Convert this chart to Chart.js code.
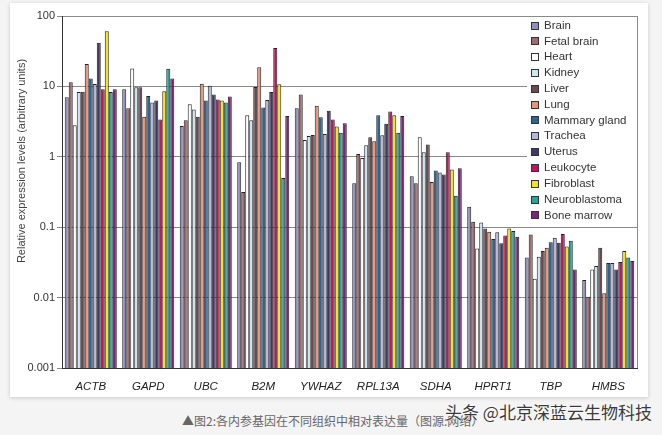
<!DOCTYPE html>
<html>
<head>
<meta charset="utf-8">
<script src="https://cdn.jsdelivr.net/npm/chart.js@4.4.1/dist/chart.umd.min.js"></script>
<style>
  html, body { margin: 0; padding: 0; }
  body { width: 662px; height: 435px; background: #f4f4f4; position: relative; overflow: hidden; font-family: "Liberation Sans", Arial, sans-serif; }
  .card { position: absolute; left: 10px; top: 3px; width: 638px; height: 394px; background: #fff; box-shadow: 0 1px 4px rgba(0,0,0,0.18); }
  #chart { position: absolute; left: 0; top: 0; }
  .caption { position: absolute; left: 182px; top: 412px; font-size: 12px; color: #666; font-family: "Noto Sans CJK SC", sans-serif; white-space: nowrap; }
  .mark { position: absolute; left: 445px; top: 399px; font-size: 17px; color: #3a3a3a; font-family: "Noto Sans CJK SC", sans-serif; white-space: nowrap;
          text-shadow: 0 0 2px #fff, 0 0 2px #fff; }
</style>
</head>
<body>
<div class="card"><canvas id="chart" width="638" height="394"></canvas></div>
<div class="caption">▲图2:各内参基因在不同组织中相对表达量（图源:网络）</div>
<div class="mark">头条 @北京深蓝云生物科技</div>
<script>
// genes on the x axis
const genes = ['ACTB', 'GAPD', 'UBC', 'B2M', 'YWHAZ', 'RPL13A', 'SDHA', 'HPRT1', 'TBP', 'HMBS'];
const yTicks = [0.001, 0.01, 0.1, 1, 10, 100];

// values per tissue
const brain         = [7.0, 9.1, 2.74, 0.835, 4.9, 0.42, 0.53, 0.195, 0.037, 0.0178];
const fetalBrain    = [11.5, 4.9, 3.3, 0.316, 7.7, 1.1, 0.42, 0.12, 0.079, 0.0103];
const heart         = [2.8, 18, 5.6, 3.9, 1.73, 0.96, 1.89, 0.05, 0.0186, 0.025];
const kidney        = [8.3, 9.7, 4.7, 3.3, 1.97, 1.46, 1.16, 0.117, 0.038, 0.028];
const liver         = [8.4, 9.7, 3.7, 9.8, 2.04, 1.89, 1.5, 0.096, 0.046, 0.051];
const lung          = [20.8, 3.7, 10.9, 18.7, 5.3, 1.66, 0.44, 0.086, 0.051, 0.0115];
const mammaryGland  = [12.9, 7.3, 6.3, 5.0, 3.64, 3.9, 0.64, 0.068, 0.061, 0.031];
const trachea       = [10.8, 5.9, 10.2, 6.4, 2.1, 2.02, 0.6, 0.085, 0.071, 0.031];
const uterus        = [41.8, 6.3, 7.7, 8.3, 4.5, 2.95, 0.56, 0.059, 0.06, 0.025];
const leukocyte     = [9.1, 3.4, 6.5, 35, 3.4, 4.4, 1.16, 0.076, 0.08, 0.032];
const fibroblast    = [60.6, 8.5, 6.3, 10.7, 2.7, 3.9, 0.66, 0.096, 0.053, 0.046];
const neuroblastoma = [8.3, 17.8, 5.9, 0.5, 2.2, 2.2, 0.28, 0.088, 0.064, 0.037];
const boneMarrow    = [9.1, 12.9, 7.2, 3.8, 3.0, 3.8, 0.69, 0.073, 0.025, 0.033];

const series = [
  ['Brain', brain, '#9090bb'],
  ['Fetal brain', fetalBrain, '#9e6a6e'],
  ['Heart', heart, '#ffffff'],
  ['Kidney', kidney, '#cfe6f2'],
  ['Liver', liver, '#6a4a4e'],
  ['Lung', lung, '#e8937a'],
  ['Mammary gland', mammaryGland, '#2b6595'],
  ['Trachea', trachea, '#b4b4dc'],
  ['Uterus', uterus, '#3d3a66'],
  ['Leukocyte', leukocyte, '#c0145e'],
  ['Fibroblast', fibroblast, '#f5e41c'],
  ['Neuroblastoma', neuroblastoma, '#2aa39c'],
  ['Bone marrow', boneMarrow, '#7d2479']
];

const fontFamily = '"Liberation Sans", Arial, sans-serif';

// legend box inside the plot, top right, plus the right frame line and y title
const framePlugin = {
  id: 'frame',
  afterDraw(chart) {
    const { ctx, chartArea } = chart;
    ctx.save();
    // right frame
    ctx.strokeStyle = '#8a8a8a';
    ctx.lineWidth = 1;
    ctx.beginPath();
    ctx.moveTo(chartArea.right + 0.5, chartArea.top);
    ctx.lineTo(chartArea.right + 0.5, chartArea.bottom);
    ctx.stroke();

    // legend
    const x0 = chartArea.right - 110;
    ctx.fillStyle = '#fff';
    ctx.fillRect(x0, chartArea.top + 1, chartArea.right - x0, 205);
    ctx.font = '11.5px ' + fontFamily;
    ctx.textBaseline = 'middle';
    chart.data.datasets.forEach((ds, i) => {
      const y = chartArea.top + 9.5 + i * 15.83;
      ctx.fillStyle = ds.backgroundColor;
      ctx.fillRect(x0 + 4.5, Math.round(y) - 3.5, 7, 7);
      ctx.strokeStyle = '#333';
      ctx.strokeRect(x0 + 4.5, Math.round(y) - 3.5, 7, 7);
      ctx.fillStyle = '#333';
      ctx.fillText(ds.label, x0 + 17, y);
    });

    // y axis title
    ctx.translate(12, 158);
    ctx.rotate(-Math.PI / 2);
    ctx.textAlign = 'center';
    ctx.fillStyle = '#444';
    ctx.font = '11px ' + fontFamily;
    ctx.fillText('Relative expression levels (arbitrary units)', 0, 0);
    ctx.restore();
  }
};

new Chart(document.getElementById('chart'), {
  type: 'bar',
  data: {
    labels: genes,
    datasets: series.map(([label, data, color]) => ({
      label: label,
      data: data,
      backgroundColor: color,
      borderColor: '#222',
      borderWidth: 1,
      barPercentage: 1,
      categoryPercentage: 0.905
    }))
  },
  options: {
    responsive: false,
    animation: false,
    layout: { padding: { top: 13, right: 11, left: 0, bottom: 0 } },
    plugins: {
      legend: { display: false },
      tooltip: { enabled: false }
    },
    scales: {
      x: {
        grid: { display: false },
        border: { display: true, color: '#333' },
        ticks: {
          color: '#222',
          padding: 4,
          font: { family: fontFamily, size: 11.5, style: 'italic' }
        },
        afterFit(scale) { scale.height = 29; }
      },
      y: {
        type: 'logarithmic',
        min: 0.001,
        max: 100,
        afterBuildTicks(scale) { scale.ticks = yTicks.map(v => ({ value: v })); },
        grid: { color: '#8a8a8a', tickLength: 5 },
        border: { display: true, color: '#333' },
        ticks: {
          color: '#333',
          padding: 2,
          font: { family: fontFamily, size: 11 },
          callback: v => String(v)
        },
        afterFit(scale) { scale.width = 52; }
      }
    }
  },
  plugins: [framePlugin]
});
</script>
</body>
</html>
